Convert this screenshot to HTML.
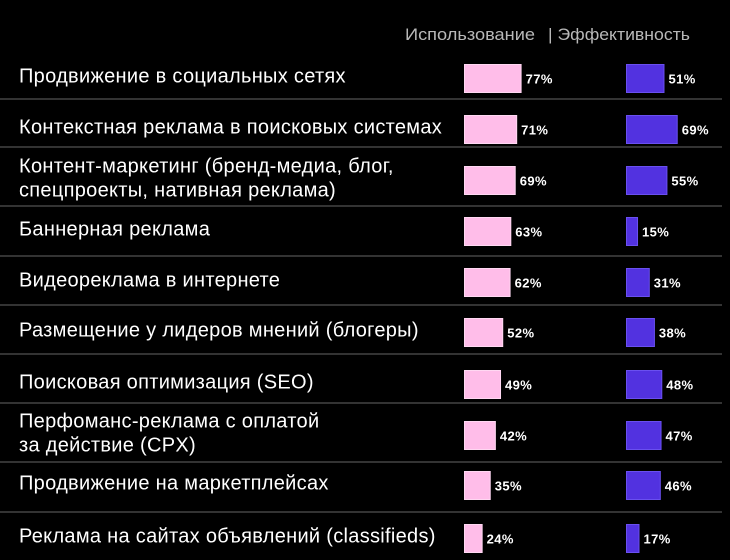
<!DOCTYPE html>
<html><head><meta charset="utf-8"><style>
html,body{margin:0;padding:0;background:#000;}
svg{display:block;font-family:"Liberation Sans","DejaVu Sans",sans-serif;}
</style></head><body>
<svg id="chart" width="730" height="560" viewBox="0 0 730 560">
<rect x="0" y="0" width="730" height="560" fill="#000"/>
<text x="405" y="40" fill="#b8b8b8" font-size="17" textLength="130" lengthAdjust="spacingAndGlyphs">Использование</text>
<text x="548" y="40" fill="#b8b8b8" font-size="17" textLength="142" lengthAdjust="spacingAndGlyphs">| Эффективность</text>
<g id="rows"></g>
</svg>
<script>
const categories = [
  ["Продвижение в социальных сетях"],
  ["Контекстная реклама в поисковых системах"],
  ["Контент-маркетинг (бренд-медиа, блог,","спецпроекты, нативная реклама)"],
  ["Баннерная реклама"],
  ["Видеореклама в интернете"],
  ["Размещение у лидеров мнений (блогеры)"],
  ["Поисковая оптимизация (SEO)"],
  ["Перфоманс-реклама с оплатой","за действие (CPX)"],
  ["Продвижение на маркетплейсах"],
  ["Реклама на сайтах объявлений (classifieds)"]
];
const usage = [77,71,69,63,62,52,49,42,35,24];
const efficiency = [51,69,55,15,31,38,48,47,46,17];

const NS = "http://www.w3.org/2000/svg";
const g = document.getElementById('rows');
const rowTops = [64,115,166,217,268,318,370,421,471,524];
const seps = [99,147,206,256,305,354,403,462,512];
const barH = 29;
function xU(v){ return v*0.735; }
function mk(tag, attrs){ const e=document.createElementNS(NS,tag); for(const k in attrs) e.setAttribute(k,attrs[k]); g.appendChild(e); return e; }
seps.forEach(y=>{
  const l = mk('rect',{x:0,y:y-1,width:722,height:2,fill:'#333'});
  
  
});
categories.forEach((lines,i)=>{
  const top = rowTops[i];
  const cy = top + barH/2;
  const t = mk('text',{x:19,fill:'#fff','font-size':20,'letter-spacing':0.3});
  
  
  if(lines.length===1){
    t.setAttribute('y', cy+4);
    t.textContent = lines[0];
  } else {
    lines.forEach((s,j)=>{
      const ts=document.createElementNS(NS,'tspan');
      ts.setAttribute('x',19);
      ts.setAttribute('y', cy-8+j*24);
      ts.textContent=s; t.appendChild(ts);
    });
  }
  const wu = xU(usage[i]);
  const b1 = mk('rect',{x:464.5,y:top+0.5,width:wu,height:barH-1,fill:'#ffbde9',stroke:'#ffd8f2','stroke-width':1});
  
  
  const v1 = mk('text',{x:464+wu+5,y:cy+5,fill:'#fff','font-size':13,'font-weight':'bold','letter-spacing':0.4});
  
  
  v1.textContent = usage[i]+'%';
  const we = xU(efficiency[i]);
  const b2 = mk('rect',{x:626.5,y:top+0.5,width:we,height:barH-1,fill:'#5232e0',stroke:'#6a50f0','stroke-width':1});
  
  
  const v2 = mk('text',{x:626+we+5,y:cy+5,fill:'#fff','font-size':13,'font-weight':'bold','letter-spacing':0.4});
  
  
  v2.textContent = efficiency[i]+'%';
});
</script>
</body></html>
